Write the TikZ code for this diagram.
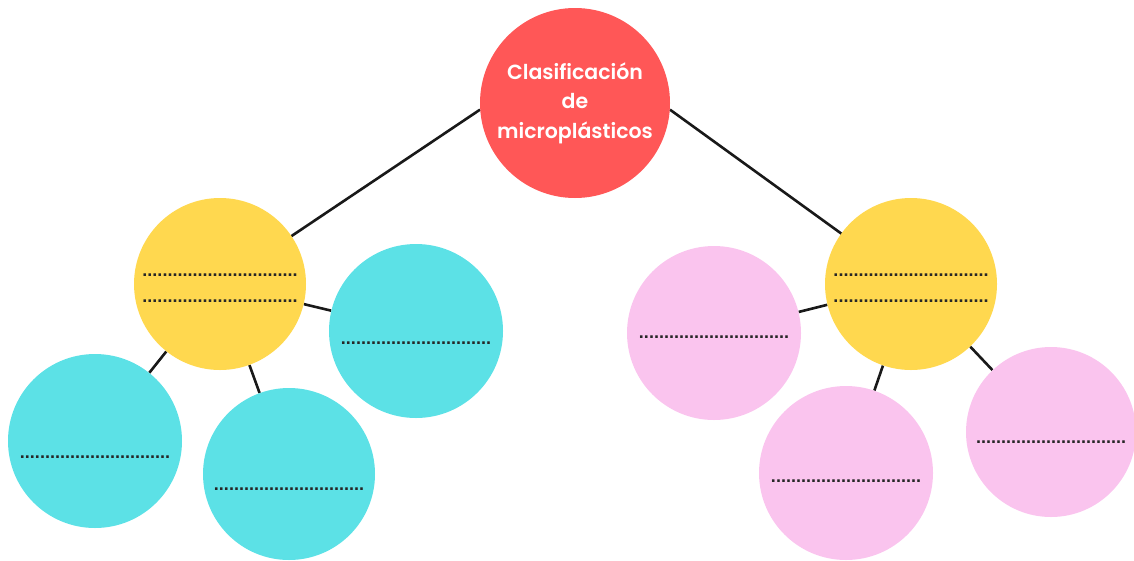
\documentclass[tikz,border=0pt]{standalone}
\usepackage{fontspec}
\setmainfont{Liberation Sans}
\newfontfamily\titlefont{Poppins SemiBold}
\usetikzlibrary{calc,backgrounds}
\definecolor{cred}{HTML}{FF5757}
\definecolor{cyel}{HTML}{FFD84F}
\definecolor{ccya}{HTML}{5CE1E6}
\definecolor{cpnk}{HTML}{FAC4EE}
\newcommand{\dotrow}{..............................}
\begin{document}
\begin{tikzpicture}[x=1pt,y=-1pt,
  bub/.style={circle,inner sep=0pt,draw=none},
  dotline/.style={inner sep=0pt,font=\fontsize{18}{18}\selectfont\bfseries,text=black!85},
  conn/.style={draw=black!90,line width=2.6pt}]
\useasboundingbox (0,0) rectangle (1134,560);
\node[bub,fill=cred,minimum size=190pt,text=white,align=center,font=\titlefont\fontsize{20.5}{29.5}\selectfont] (root) at (575,103) {Clasificación\\de\\microplásticos};
\node[bub,fill=cyel,minimum size=172pt] (yl) at (220,284) {};
\node[bub,fill=cyel,minimum size=172pt] (yr) at (911,284) {};
\node[bub,fill=ccya,minimum size=174pt] (c1) at (416,331) {};
\node[bub,fill=ccya,minimum size=174pt] (c2) at (95,441) {};
\node[bub,fill=ccya,minimum size=172pt] (c3) at (289,474) {};
\node[bub,fill=cpnk,minimum size=174pt] (p1) at (714,333) {};
\node[bub,fill=cpnk,minimum size=174pt] (p2) at (846,473) {};
\node[bub,fill=cpnk,minimum size=170pt] (p3) at (1051,432) {};
% dotted text lines
\node[dotline] (yl1) at ($(yl)+(0,-9)$) {.\dotrow};
\node[dotline] (yl2) at ($(yl)+(0,17)$) {.\dotrow};
\node[dotline] (yr1) at ($(yr)+(0,-9)$) {.\dotrow};
\node[dotline] (yr2) at ($(yr)+(0,17)$) {.\dotrow};
\node[dotline] (c1t) at ($(c1)+(0,12)$) {\dotrow};
\node[dotline] (c2t) at ($(c2)+(0,16)$) {\dotrow};
\node[dotline] (c3t) at ($(c3)+(0,15)$) {\dotrow};
\node[dotline] (p1t) at ($(p1)+(0,4)$) {\dotrow};
\node[dotline] (p2t) at ($(p2)+(0,8)$) {\dotrow};
\node[dotline] (p3t) at ($(p3)+(0,10)$) {\dotrow};
\begin{pgfonlayer}{background}
\draw[conn] (root.184) -- (yl.center);
\draw[conn] (root.356) -- (yr.center);
\draw[conn] (yl) -- (c1);
\draw[conn] (yl) -- (c2);
\draw[conn] (yl) -- (c3);
\draw[conn] (yr) -- (p1);
\draw[conn] (yr) -- (p2);
\draw[conn] (yr) -- (p3);
\end{pgfonlayer}
\end{tikzpicture}
\end{document}
